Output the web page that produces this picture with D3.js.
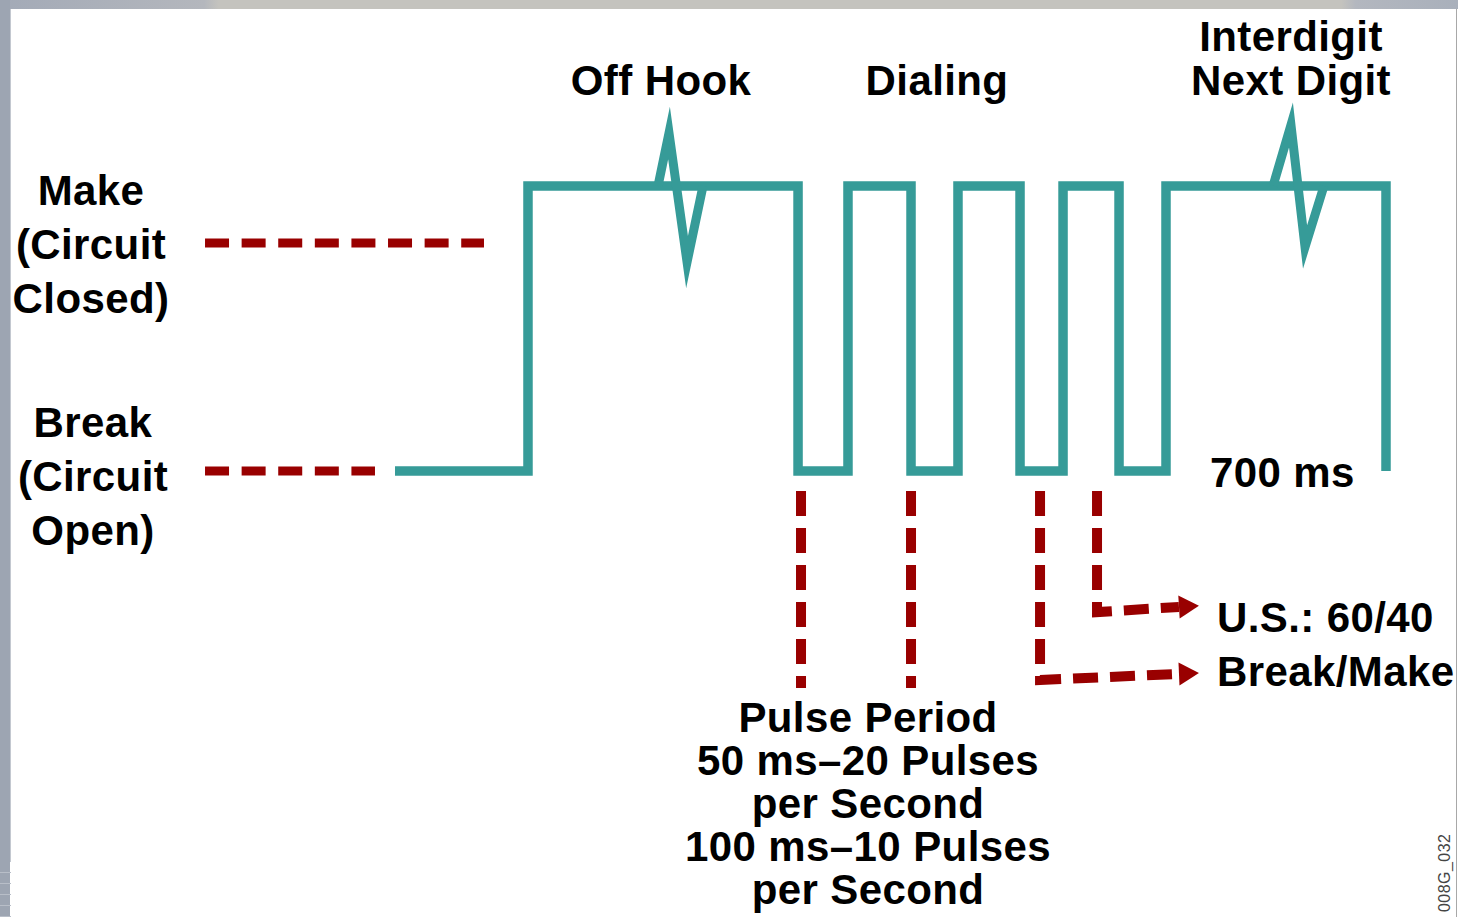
<!DOCTYPE html>
<html>
<head>
<meta charset="utf-8">
<script src="https://cdn.jsdelivr.net/npm/d3@7"></script>
<style>
  body { margin: 0; background: #fff; }
  svg { display: block; }
  text { font-family: "Liberation Sans", Arial, sans-serif; font-weight: bold; fill: #000; }
</style>
</head>
<body>
<script>
const width = 1458;
const height = 917;

// line state over time: 0 = break (circuit open), 1 = make (circuit closed)
const edgeTimes = [0, 13.42, 40.67, 45.71, 52.07, 56.81, 63.07, 67.41, 73.06, 77.80, 100];
const edgeStates = [0, 1, 0, 1, 0, 1, 0, 1, 0, 1, 0];

// zigzag breaks drawn over the long "make" stretches
const spikeTimes = [
  [26.54, 27.65, 29.47, 31.08],
  [88.60, 90.41, 91.83, 93.74]
];
const spikeStates = [
  [1, 1.186, 0.733, 1],
  [1, 1.214, 0.786, 1]
];

// dashed level guides next to the labels
const guideStart = [-19.17, -19.17];
const guideEnd = [8.98, -2.02];
const guideLevel = [0.8, 0];

// dashed markers under the pulses
const markerTimes = [40.97, 52.07, 65.09, 70.84];
const markerTop = [-0.07, -0.07, -0.07, -0.07];
const markerBottom = [-0.761, -0.761, -0.733, -0.495];
const arrowEndTime = [null, null, 79.11, 79.11];
const arrowEndLevel = [null, null, -0.712, -0.477];

const leftLabels = [
  ["Make", "(Circuit", "Closed)"],
  ["Break", "(Circuit", "Open)"]
];
const topLabels = ["Off Hook", "Dialing", ["Interdigit", "Next Digit"]];
const periodLines = ["Pulse Period", "50 ms\u201320 Pulses", "per Second", "100 ms\u201310 Pulses", "per Second"];
const ratioLines = ["U.S.: 60/40", "Break/Make"];

const teal = "#369b98";
const red = "#990000";

const x = d3.scaleLinear().domain([0, 100]).range([395, 1386]);
const y = d3.scaleLinear().domain([0, 1]).range([471, 186]);

const svg = d3.select("body")
  .append("svg")
  .attr("width", width)
  .attr("height", height);

// page frame
const defs = svg.append("defs");
const grad = defs.append("linearGradient").attr("id", "topbar");
grad.append("stop").attr("offset", "0%").attr("stop-color", "#a3aab7");
grad.append("stop").attr("offset", "14%").attr("stop-color", "#b4b7bd");
grad.append("stop").attr("offset", "15%").attr("stop-color", "#c4c3be");
grad.append("stop").attr("offset", "92%").attr("stop-color", "#c4c3be");
grad.append("stop").attr("offset", "93%").attr("stop-color", "#b3b7bf");
grad.append("stop").attr("offset", "100%").attr("stop-color", "#a9b0bb");
svg.append("rect").attr("x", 0).attr("y", 0).attr("width", width).attr("height", 9).attr("fill", "url(#topbar)");
svg.append("rect").attr("x", 0).attr("y", 0).attr("width", 10).attr("height", height).attr("fill", "#9da5b2");
svg.append("line").attr("x1", 10.5).attr("x2", 10.5).attr("y1", 9).attr("y2", 862)
  .attr("stroke", "#c3c8d0").attr("stroke-width", 1);
svg.append("line").attr("x1", 1456.5).attr("x2", 1456.5).attr("y1", 9).attr("y2", height)
  .attr("stroke", "#a8a8a8").attr("stroke-width", 1);
d3.range(872, 917, 11).forEach(v => {
  svg.append("line").attr("x1", 0).attr("x2", 11).attr("y1", v + 0.5).attr("y2", v + 0.5)
    .attr("stroke", "#b8bec8").attr("stroke-width", 1);
});

// waveform as steps
const steps = [[edgeTimes[0], edgeStates[0]]];
for (let i = 1; i < edgeTimes.length; i++) {
  steps.push([edgeTimes[i], edgeStates[i - 1]]);
  steps.push([edgeTimes[i], edgeStates[i]]);
}
const line = d3.line().x(d => x(d[0])).y(d => y(d[1]));

svg.append("path")
  .attr("d", line(steps))
  .attr("fill", "none")
  .attr("stroke", teal)
  .attr("stroke-width", 9.5)
  .attr("stroke-linejoin", "miter");

spikeTimes.forEach((ts, i) => {
  svg.append("path")
    .attr("d", line(ts.map((t, j) => [t, spikeStates[i][j]])))
    .attr("fill", "none")
    .attr("stroke", teal)
    .attr("stroke-width", 9)
    .attr("stroke-linejoin", "miter")
    .attr("stroke-miterlimit", 30);
});

// dashed level guides
guideLevel.forEach((lv, i) => {
  svg.append("line")
    .attr("x1", x(guideStart[i]))
    .attr("x2", x(guideEnd[i]))
    .attr("y1", y(lv))
    .attr("y2", y(lv))
    .attr("stroke", red)
    .attr("stroke-width", 9)
    .attr("stroke-dasharray", "24,12.6");
});

// markers, two of them turning into arrows
markerTimes.forEach((t, i) => {
  const pts = [[t, markerTop[i]], [t, markerBottom[i]]];
  if (arrowEndTime[i] !== null) pts.push([arrowEndTime[i], arrowEndLevel[i]]);
  svg.append("path")
    .attr("d", line(pts))
    .attr("fill", "none")
    .attr("stroke", red)
    .attr("stroke-width", 10)
    .attr("stroke-linejoin", "miter")
    .attr("stroke-dasharray", "25,12");

  if (arrowEndTime[i] !== null) {
    const bx = x(arrowEndTime[i]), by = y(arrowEndLevel[i]);
    const px = x(markerTimes[i]), py = y(markerBottom[i]);
    const a = Math.atan2(by - py, bx - px);
    const len = 20, half = 11.5;
    const tip = [bx + len * Math.cos(a), by + len * Math.sin(a)];
    const l = [bx - half * Math.sin(a), by + half * Math.cos(a)];
    const r = [bx + half * Math.sin(a), by - half * Math.cos(a)];
    svg.append("polygon")
      .attr("points", [tip, l, r].map(p => p.join(",")).join(" "))
      .attr("fill", red);
  }
});

// text
const fs = 42;
function block(lines, cx, y0, gap, anchor) {
  const t = svg.append("text")
    .attr("text-anchor", anchor || "middle")
    .attr("font-size", fs)
    .style("letter-spacing", "0.4px");
  lines.forEach((s, i) => {
    t.append("tspan").attr("x", cx).attr("y", y0 + i * gap).text(s);
  });
  return t;
}

block(leftLabels[0], 91, 205, 54);
block(leftLabels[1], 93, 437, 54);
block([topLabels[0]], 661, 95, 0);
block([topLabels[1]], 937, 95, 0);
block(topLabels[2], 1291, 51, 44);
block(periodLines, 868, 732, 43);
block(["700 ms"], 1210, 487, 0, "start");
block(ratioLines, 1217, 632, 54, "start");

svg.append("text")
  .attr("transform", "translate(1450,834) rotate(-90)")
  .attr("text-anchor", "end")
  .attr("font-size", 16)
  .attr("textLength", 78)
  .style("font-weight", "normal")
  .style("fill", "#444")
  .text("008G_032");
</script>
</body>
</html>
